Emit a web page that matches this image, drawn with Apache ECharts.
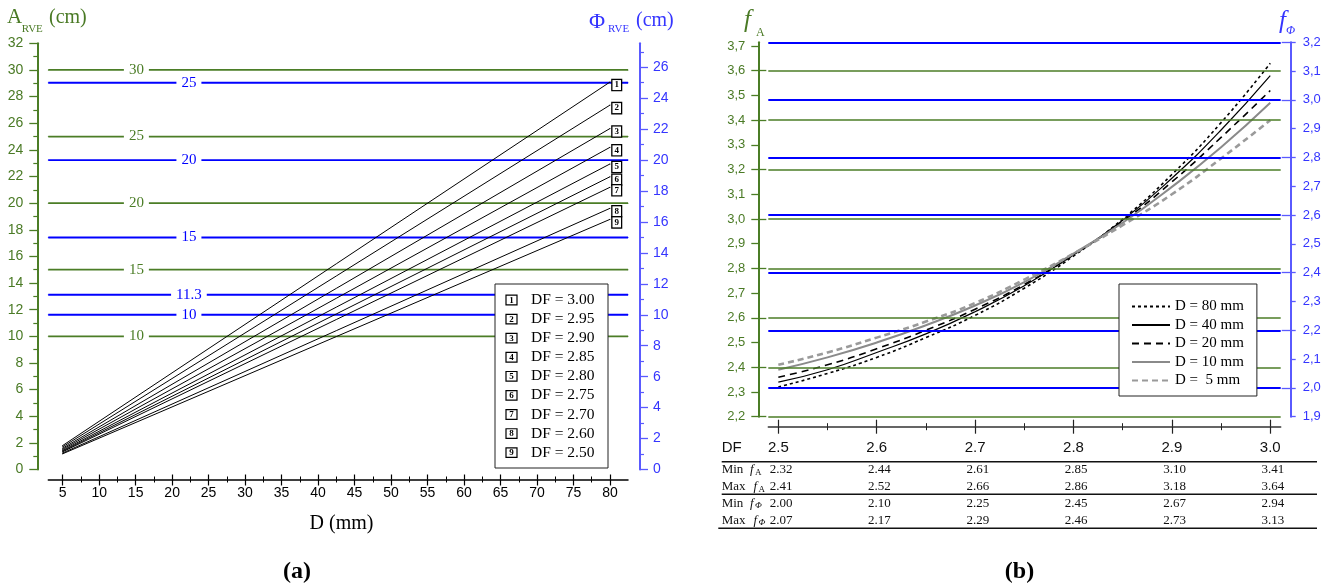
<!DOCTYPE html>
<html><head><meta charset="utf-8">
<script src="https://cdn.jsdelivr.net/npm/echarts@6/dist/echarts.min.js"></script>
<style>html,body{margin:0;padding:0;background:#fff}#c{width:1335px;height:587px}</style>
</head><body><div id="c"></div>
<script>
// ---------- data: panel (a) ----------
const dfValues = [3.00, 2.95, 2.90, 2.85, 2.80, 2.75, 2.70, 2.60, 2.50];
const dStart = 5, dEnd = 80;
const aAtD5  = [1.80, 1.70, 1.60, 1.52, 1.44, 1.38, 1.33, 1.24, 1.18];
const aAtD80 = [29.09, 27.36, 25.60, 24.19, 22.94, 21.98, 21.19, 19.61, 18.78];
const aLevels = [10, 15, 20, 25, 30];
const phiLevels = [10, 11.3, 15, 20, 25];
const xTicksA = [5,10,15,20,25,30,35,40,45,50,55,60,65,70,75,80];
const xMinorA = [7.5,12.5,17.5,22.5,27.5,32.5,37.5,42.5,47.5,52.5,57.5,62.5,67.5,72.5,77.5];
const aTicks = [0,2,4,6,8,10,12,14,16,18,20,22,24,26,28,30,32];
const aMinor = [1,3,5,7,9,11,13,15,17,19,21,23,25,27,29,31];
const phiTicks = [0,2,4,6,8,10,12,14,16,18,20,22,24,26];
const phiMinor = [1,3,5,7,9,11,13,15,17,19,21,23,25,27];

// ---------- data: panel (b) ----------
const dfGrid = [2.5, 2.55, 2.6, 2.65, 2.7, 2.75, 2.8, 2.85, 2.9, 2.95, 3.0];
const curveNames = ['D = 80 mm', 'D = 40 mm', 'D = 20 mm', 'D = 10 mm', 'D =  5 mm'];
const fD80 = [2.32, 2.375, 2.44, 2.52, 2.61, 2.72, 2.85, 3.00, 3.18, 3.39, 3.63];
const fD40 = [2.34, 2.39, 2.46, 2.535, 2.625, 2.73, 2.855, 2.995, 3.165, 3.36, 3.58];
const fD20 = [2.36, 2.41, 2.475, 2.55, 2.635, 2.735, 2.855, 2.99, 3.15, 3.33, 3.52];
const fD10 = [2.39, 2.44, 2.50, 2.57, 2.65, 2.745, 2.86, 2.985, 3.13, 3.29, 3.47];
const fD5  = [2.41, 2.46, 2.52, 2.585, 2.66, 2.755, 2.86, 2.975, 3.10, 3.245, 3.40];
const dfTicksB = [2.5, 2.6, 2.7, 2.8, 2.9, 3.0];
const dfMinorB = [2.55, 2.65, 2.75, 2.85, 2.95];
const minFA   = ['2.32','2.44','2.61','2.85','3.10','3.41'];
const maxFA   = ['2.41','2.52','2.66','2.86','3.18','3.64'];
const minFPhi = ['2.00','2.10','2.25','2.45','2.67','2.94'];
const maxFPhi = ['2.07','2.17','2.29','2.46','2.73','3.13'];
const faTicks = [2.2,2.3,2.4,2.5,2.6,2.7,2.8,2.9,3.0,3.1,3.2,3.3,3.4,3.5,3.6,3.7];
const faLevels = [2.2,2.4,2.6,2.8,3.0,3.2,3.4,3.6];
const fphiTicks = [1.9,2.0,2.1,2.2,2.3,2.4,2.5,2.6,2.7,2.8,2.9,3.0,3.1,3.2];
const fphiLevels = [2.0,2.2,2.4,2.6,2.8,3.0,3.2];

// ---------- style constants ----------
const SERIF = '"Liberation Serif","Times New Roman",serif';
const SANS = '"Liberation Sans",Arial,sans-serif';
const GREEN = '#4a7a25', GREEN_LINE = '#4b7d26';
const BLUE = '#0000ff', BLUE_TEXT = '#3535ff', BLUE_AXIS = '#5a5aff';
const XA_MIN = 3.03, XA_MAX = 82.47, XB_MIN = 2.4898, XB_MAX = 3.0106;
const GREEN_LABEL_D = 15.1, BLUE_LABEL_D = 22.3;

const chart = echarts.init(document.getElementById('c'));

function tickAxis(base, extra) { return Object.assign({}, base, extra); }

// x axes
const xa = {type:'value', gridIndex:0, min:XA_MIN, max:XA_MAX, position:'bottom', offset:10, splitLine:{show:false}};
const xb = {type:'value', gridIndex:1, min:XB_MIN, max:XB_MAX, position:'bottom', offset:10, splitLine:{show:false}};
const noLine = {show:false, onZero:false};
const xAxis = [
  tickAxis(xa, {axisLine:{onZero:false, lineStyle:{color:'#000', width:1.5}},
    axisTick:{customValues:xTicksA, length:6, lineStyle:{color:'#000', width:1.2}},
    axisLabel:{customValues:xTicksA, margin:7, color:'#000', fontFamily:SANS, fontSize:14}}),
  tickAxis(xa, {axisLine:noLine, axisTick:{inside:true, customValues:xTicksA, length:5, lineStyle:{color:'#000', width:1.2}}, axisLabel:{show:false}}),
  tickAxis(xa, {axisLine:noLine, axisTick:{customValues:xMinorA, length:3, lineStyle:{color:'#000', width:1}}, axisLabel:{show:false}}),
  tickAxis(xa, {axisLine:noLine, axisTick:{inside:true, customValues:xMinorA, length:3, lineStyle:{color:'#000', width:1}}, axisLabel:{show:false}}),
  tickAxis(xb, {axisLine:{onZero:false, lineStyle:{color:'#333', width:1.5}},
    axisTick:{customValues:dfTicksB, length:7, lineStyle:{color:'#222', width:1.2}},
    axisLabel:{customValues:dfTicksB, margin:14, color:'#111', fontFamily:SANS, fontSize:15, formatter:v=>v.toFixed(1)}}),
  tickAxis(xb, {axisLine:noLine, axisTick:{inside:true, customValues:dfTicksB, length:7, lineStyle:{color:'#222', width:1.2}}, axisLabel:{show:false}}),
  tickAxis(xb, {axisLine:noLine, axisTick:{customValues:dfMinorB, length:3.5, lineStyle:{color:'#222', width:1}}, axisLabel:{show:false}}),
  tickAxis(xb, {axisLine:noLine, axisTick:{inside:true, customValues:dfMinorB, length:3.5, lineStyle:{color:'#222', width:1}}, axisLabel:{show:false}})
];

const yaL = {type:'value', gridIndex:0, min:0, max:32, position:'left', offset:11, splitLine:{show:false}};
const yaR = {type:'value', gridIndex:0, min:0, max:27.55, position:'right', offset:12, splitLine:{show:false}};
const ybL = {type:'value', gridIndex:1, min:2.2, max:3.715, position:'left', offset:10, splitLine:{show:false}};
const ybR = {type:'value', gridIndex:1, min:1.9, max:3.2, position:'right', offset:10, splitLine:{show:false}};
const comma = v => v.toFixed(1).replace('.', ',');
const yAxis = [
  tickAxis(yaL, {axisLine:{show:true, onZero:false, lineStyle:{color:GREEN_LINE, width:2}},
    axisTick:{customValues:aTicks, length:8, lineStyle:{color:GREEN_LINE, width:1.3}},
    axisLabel:{customValues:aTicks, margin:14, color:GREEN, fontFamily:SANS, fontSize:14}}),
  tickAxis(yaL, {axisLine:noLine, axisTick:{customValues:aMinor, length:4, lineStyle:{color:GREEN_LINE, width:1.2}}, axisLabel:{show:false}}),
  tickAxis(yaR, {axisLine:{show:true, onZero:false, lineStyle:{color:BLUE_AXIS, width:2}},
    axisTick:{customValues:phiTicks, length:8, lineStyle:{color:BLUE_AXIS, width:1.3}},
    axisLabel:{customValues:phiTicks, margin:13, color:BLUE_TEXT, fontFamily:SANS, fontSize:14}}),
  tickAxis(yaR, {axisLine:noLine, axisTick:{customValues:phiMinor, length:4, lineStyle:{color:BLUE_AXIS, width:1.2}}, axisLabel:{show:false}}),
  tickAxis(ybL, {axisLine:{show:true, onZero:false, lineStyle:{color:GREEN_LINE, width:2}},
    axisTick:{customValues:faTicks, length:7, lineStyle:{color:GREEN_LINE, width:1.3}},
    axisLabel:{customValues:faTicks, margin:13, color:GREEN, fontFamily:SANS, fontSize:13, formatter:comma}}),
  tickAxis(ybL, {axisLine:noLine, axisTick:{inside:true, customValues:faLevels, length:8, lineStyle:{color:GREEN_LINE, width:1.3}}, axisLabel:{show:false}}),
  tickAxis(ybR, {axisLine:{show:true, onZero:false, lineStyle:{color:BLUE_AXIS, width:2}},
    axisTick:{customValues:fphiTicks, length:5, lineStyle:{color:BLUE_AXIS, width:1.3}},
    axisLabel:{customValues:fphiTicks, margin:12, color:BLUE_TEXT, fontFamily:SANS, fontSize:13, formatter:comma}}),
  tickAxis(ybR, {axisLine:noLine, axisTick:{inside:true, customValues:fphiLevels, length:9, lineStyle:{color:BLUE_AXIS, width:1.3}}, axisLabel:{show:false}})
];

const series = [];
// panel (a) level lines with inline labels
function levelA(v, yIdx, color, labelD, width) {
  series.push({type:'line', xAxisIndex:0, yAxisIndex:yIdx, z:1, silent:true,
    symbol:'circle', symbolSize:1, showSymbol:true, itemStyle:{color:color},
    lineStyle:{color:color, width:width},
    data:[[XA_MIN, v], {value:[labelD, v], label:{show:true, position:'inside', formatter:String(v),
      backgroundColor:'#fff', padding:[0,5], color:color, fontFamily:SERIF, fontSize:15}}, [XA_MAX, v]]});
}
aLevels.forEach(v => levelA(v, 0, GREEN_LINE, GREEN_LABEL_D, 1.7));
phiLevels.forEach(v => levelA(v, 2, BLUE, BLUE_LABEL_D, 1.9));
// panel (a) DF lines
dfValues.forEach((df, i) => {
  series.push({type:'line', name:'DF = ' + df.toFixed(2), xAxisIndex:0, yAxisIndex:0, z:3, silent:true,
    symbol:'circle', symbolSize:1, itemStyle:{color:'#000'}, lineStyle:{color:'#000', width:1},
    data:[[dStart, aAtD5[i]], {value:[dEnd, aAtD80[i]], label:{show:true, position:'right', distance:2, offset:[0,3],
      formatter:String(i+1), color:'#000', fontFamily:SERIF, fontWeight:'bold', fontSize:9, lineHeight:9,
      backgroundColor:'#fff', borderColor:'#000', borderWidth:1.3, padding:[1,2,0,2]}}]});
});
// panel (b) grid lines as mark lines
series.push({type:'line', name:'gridA', xAxisIndex:4, yAxisIndex:4, z:1, silent:true, symbol:'none', data:[],
  markLine:{silent:true, symbol:['none','none'], label:{show:false}, animation:false,
    lineStyle:{color:GREEN_LINE, width:1.7, type:'solid'}, emphasis:{disabled:true},
    data:faLevels.map(v => ({yAxis:v}))}});
series.push({type:'line', name:'gridPhi', xAxisIndex:4, yAxisIndex:6, z:1, silent:true, symbol:'none', data:[],
  markLine:{silent:true, symbol:['none','none'], label:{show:false}, animation:false,
    lineStyle:{color:BLUE, width:1.9, type:'solid'}, emphasis:{disabled:true},
    data:fphiLevels.map(v => ({yAxis:v}))}});
// panel (b) curves
const curves = [fD80, fD40, fD20, fD10, fD5];
const curveStyles = [
  {color:'#000', width:1.6, type:[3,3]},
  {color:'#000', width:1.2, type:'solid'},
  {color:'#000', width:1.6, type:[7,5]},
  {color:'#8a8a8a', width:2, type:'solid'},
  {color:'#9a9a9a', width:2.6, type:[6,4]}
];
curves.forEach((c, k) => series.push({type:'line', name:curveNames[k], xAxisIndex:4, yAxisIndex:4, z:4, silent:true,
  symbol:'none', smooth:true, itemStyle:{color:curveStyles[k].color}, lineStyle:curveStyles[k],
  data:dfGrid.map((d, j) => [d, c[j]])}));

const option = {
  animation:false,
  backgroundColor:'#fff',
  grid:[
    {left:48.3, top:43.3, width:579.7, height:426.2, containLabel:false, outerBoundsMode:'none'},
    {left:768.3, top:42.3, width:512.4, height:374.4, containLabel:false, outerBoundsMode:'none'}
  ],
  xAxis: xAxis, yAxis: yAxis, series: series,
  legend:{data:curveNames, orient:'vertical', left:1119, top:284, padding:[15,13,8,12],
    itemWidth:38, itemHeight:12, itemGap:3.5, selectedMode:false, z:10,
    itemStyle:{color:'rgba(0,0,0,0)', borderWidth:0, opacity:0},
    backgroundColor:'#fff', borderColor:'#222', borderWidth:1,
    textStyle:{fontFamily:SERIF, fontSize:15, color:'#000'}}
};
chart.setOption(option);

// ---------- graphics: titles, legend (a), table (b) ----------
const G = [];
function txt(x, y, text, font, fill, align, valign) {
  G.push({type:'text', x:x, y:y, z:100, silent:true,
    style:{text:text, font:font, fill:fill, align:align||'left', verticalAlign:valign||'middle'}});
}
function ln(x1, y1, x2, y2, w, c) {
  G.push({type:'line', z:100, silent:true, shape:{x1:x1, y1:y1, x2:x2, y2:y2}, style:{stroke:c||'#000', lineWidth:w||1}});
}
// axis titles (a)
txt(7, 17, 'A', '21px ' + SERIF, GREEN);
txt(21.7, 29, 'RVE', '11px ' + SERIF, GREEN);
txt(49, 18, '(cm)', '20px ' + SERIF, GREEN);
txt(589, 22, 'Φ', '22px ' + SERIF, BLUE_TEXT);
txt(608, 29.5, 'RVE', '11px ' + SERIF, BLUE_TEXT);
txt(636, 21, '(cm)', '20px ' + SERIF, BLUE_TEXT);
txt(341.5, 524, 'D (mm)', '20px ' + SERIF, '#000', 'center');
txt(297, 572, '(a)', 'bold 24px ' + SERIF, '#000', 'center');
txt(1019.5, 572, '(b)', 'bold 24px ' + SERIF, '#000', 'center');
// axis titles (b)
txt(744, 20, 'f', 'italic 25px ' + SERIF, GREEN);
txt(756, 32.5, 'A', '12px ' + SERIF, GREEN);
txt(1279, 21, 'f', 'italic 25px ' + SERIF, BLUE_TEXT);
txt(1286, 31, 'Φ', 'italic 12px ' + SERIF, BLUE_TEXT);

// legend (a)
G.push({type:'rect', z:90, silent:true, shape:{x:495, y:284, width:113, height:184}, style:{fill:'#fff', stroke:'#222', lineWidth:1}});
dfValues.forEach((df, i) => {
  const y = 300 + i * 19.08;
  G.push({type:'rect', z:100, silent:true, shape:{x:506, y:y-4.8, width:11, height:9.6}, style:{fill:'#fff', stroke:'#000', lineWidth:1.2}});
  txt(511.6, y + 0.4, String(i+1), 'bold 9px ' + SERIF, '#000', 'center');
  txt(531, y, 'DF = ' + df.toFixed(2), '15.5px ' + SERIF, '#000');
});

// table (b)
txt(721.7, 448, 'DF', '15px ' + SANS, '#111');
ln(721.7, 461.7, 1317, 461.7, 1.4, '#111');
ln(721.7, 494.3, 1317, 494.3, 1.4, '#111');
ln(718.3, 528.3, 1317, 528.3, 1.4, '#111');
const rows = [
  {lab:'Min', fx:750, sub:'A', subItalic:false, vals:minFA, y:470},
  {lab:'Max', fx:753.5, sub:'A', subItalic:false, vals:maxFA, y:487},
  {lab:'Min', fx:750, sub:'Φ', subItalic:true, vals:minFPhi, y:503.5},
  {lab:'Max', fx:753.5, sub:'Φ', subItalic:true, vals:maxFPhi, y:520.5}
];
rows.forEach(r => {
  txt(721.7, r.y, r.lab, '13px ' + SERIF, '#111');
  txt(r.fx, r.y, 'f', 'italic 13px ' + SERIF, '#111');
  txt(r.fx + 5, r.y + 2.5, r.sub, (r.subItalic ? 'italic ' : '') + '9px ' + SERIF, '#111');
  r.vals.forEach((v, j) => {
    const px = chart.convertToPixel({xAxisIndex:4}, dfTicksB[j]);
    txt(px - 8.7, r.y, v, '13px ' + SERIF, '#111');
  });
});
chart.setOption({graphic: G});
</script>
</body></html>
